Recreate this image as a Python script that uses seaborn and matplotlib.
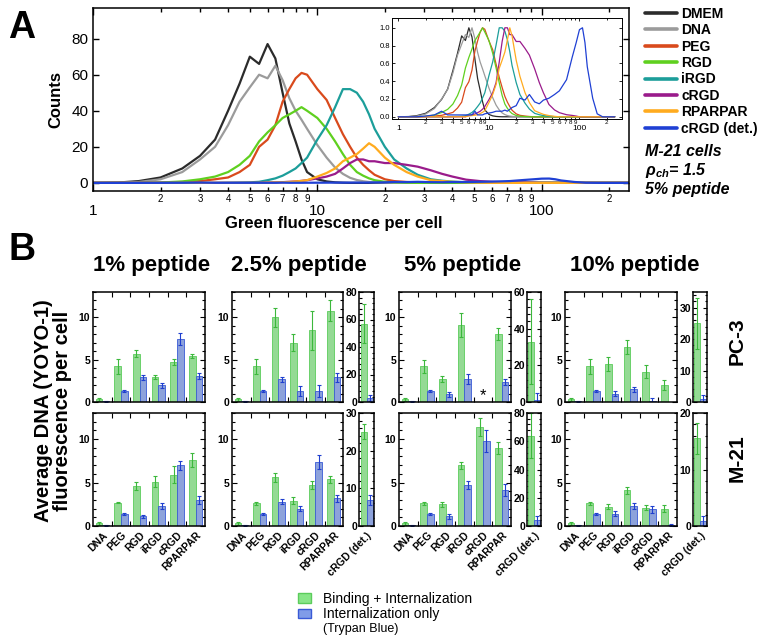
import numpy as np
import pandas as pd
import matplotlib
matplotlib.use('Agg')
import matplotlib.pyplot as plt
from matplotlib.ticker import FixedLocator, FuncFormatter, MultipleLocator, AutoMinorLocator
from matplotlib.patches import Patch
import seaborn as sns

# figure size in pixels, everything below is placed in pixel coords
W, H = 761, 643

# ---------------- panel A data (flow cytometry histograms) ----------------
X_GRID = [1.0, 1.3, 1.6, 2.0, 2.5, 3.0, 3.5, 4.0, 4.5, 5.0, 5.5, 6.0, 6.5, 7.0, 7.5, 8.0,
          8.5, 9.0, 10, 11, 12, 13, 14, 15, 16, 17, 18, 20, 22, 25, 28, 32,
          36, 40, 46, 53, 60, 72, 83, 92, 100, 108, 115, 122, 140, 157, 180, 245]

dmem = [0, 0.2, 1, 3, 8, 15, 24, 40, 55, 70, 66, 77, 69, 50, 33, 23,
        13, 6, 2, 0.8, 0.3, 0.1, 0, 0, 0, 0, 0, 0, 0, 0, 0, 0,
        0, 0, 0, 0, 0, 0, 0, 0, 0, 0, 0, 0, 0, 0, 0, 0]
dna = [0, 0.1, 0.5, 2, 6, 13, 20, 32, 45, 53, 60, 58, 65, 57, 47, 40,
       35, 30, 21, 14, 8.5, 5, 2.8, 1.6, 0.9, 0.5, 0.3, 0.1, 0, 0, 0, 0,
       0, 0, 0, 0, 0, 0, 0, 0, 0, 0, 0, 0, 0, 0, 0, 0]
peg = [0, 0, 0, 0.2, 0.5, 1, 2, 3, 6, 10, 20, 24, 32, 45, 52, 58,
       61, 60, 52, 46, 36, 27, 20, 14, 10, 7, 4.5, 2, 1, 0.5, 0.2, 0,
       0, 0, 0, 0, 0, 0, 0, 0, 0, 0, 0, 0, 0, 0, 0, 0]
rgd = [0, 0, 0, 0.2, 0.8, 2, 3.5, 6, 10, 15, 23, 28, 32, 36, 38, 40,
       42, 40, 36, 30, 23, 16, 10, 6, 4, 2.5, 1.5, 0.6, 0.3, 0.1, 0, 0,
       0, 0, 0, 0, 0, 0, 0, 0, 0, 0, 0, 0, 0, 0, 0, 0]
irgd = [0, 0, 0, 0, 0, 0, 0, 0.1, 0.2, 0.3, 0.6, 1.5, 2.5, 4, 6, 8,
        11, 14, 24, 32, 42, 52, 52, 50, 45, 38, 30, 20, 13, 8, 4.5, 2,
        1.2, 0.7, 0.3, 0.1, 0, 0, 0, 0, 0, 0, 0, 0, 0, 0, 0, 0]
crgd = [0, 0, 0, 0, 0, 0, 0, 0, 0, 0, 0, 0.2, 0.3, 0.4, 0.6, 0.8,
        1.1, 1.5, 2.5, 3.5, 5, 8, 11, 13, 13, 12, 12, 11, 11, 10, 9, 7,
        5, 3.5, 1.8, 1, 0.6, 0.3, 0.2, 0.1, 0, 0, 0, 0, 0, 0, 0, 0]
rparpar = [0, 0, 0, 0, 0, 0, 0, 0, 0, 0, 0, 0.2, 0.3, 0.4, 0.5, 0.8,
           1.1, 1.5, 3.5, 5.5, 8, 12, 14, 16, 19, 22, 20, 14, 10, 6, 3.5, 1.5,
           1, 0.6, 0.3, 0.1, 0, 0, 0, 0, 0, 0, 0, 0, 0, 0, 0, 0]
crgd_det = [0, 0, 0, 0.02, 0.05, 0.15, 0.05, 0.05, 0.05, 0.05, 0.05, 0.05, 0.05, 0.15, 0.05, 0.05,
            0.05, 0.08, 0.1, 0.12, 0.15, 0.15, 0.15, 0.18, 0.15, 0.2, 0.25, 0.3, 0.5, 0.45, 0.6, 0.4,
            0.35, 0.45, 0.5, 0.6, 0.7, 1.0, 1.6, 2.0, 2.35, 2.4, 2.0, 1.35, 0.5, 0.08, 0, 0]

CURVE_NAMES = ['DMEM', 'DNA', 'PEG', 'RGD', 'iRGD', 'cRGD', 'RPARPAR', 'cRGD (det.)']
CURVES = [dmem, dna, peg, rgd, irgd, crgd, rparpar, crgd_det]
CURVE_COLORS = ['#2b2b2b', '#9b9b9b', '#d94a1c', '#5fd01f', '#1c9e9a', '#9a1b8b', '#ffab1f', '#1f40d4']

# ---------------- panel B data (bar charts) ----------------
PEPTIDES = ['DNA', 'PEG', 'RGD', 'iRGD', 'cRGD', 'RPARPAR']
CONCS = ['1% peptide', '2.5% peptide', '5% peptide', '10% peptide']
nan = np.nan

# rows = 1%, 2.5%, 5%, 10%
pc3_bind = [[0.3, 4.2, 5.7, 3.0, 4.7, 5.4],
            [0.3, 4.2, 10.0, 7.0, 8.5, 10.8],
            [0.3, 4.2, 2.7, 9.1, nan, 8.0],
            [0.3, 4.2, 4.5, 6.5, 3.6, 2.0]]
pc3_bind_err = [[0.2, 0.85, 0.4, 0.25, 0.35, 0.25],
                [0.2, 0.9, 1.1, 1.0, 2.3, 1.2],
                [0.15, 0.8, 0.35, 1.4, nan, 0.7],
                [0.2, 0.85, 0.8, 0.8, 0.8, 0.6]]
pc3_int = [[0.1, 1.3, 2.9, 2.0, 7.4, 3.1],
           [0.1, 1.3, 2.7, 1.3, 1.3, 2.9],
           [0.1, 1.3, 0.9, 2.7, nan, 2.4],
           [0.1, 1.3, 1.0, 1.5, 0.1, nan]]
pc3_int_err = [[0.05, 0.1, 0.25, 0.3, 0.7, 0.35],
               [0.05, 0.1, 0.3, 0.6, 0.7, 0.5],
               [0.05, 0.1, 0.25, 0.6, nan, 0.35],
               [0.05, 0.1, 0.3, 0.3, 0.35, nan]]

m21_bind = [[0.3, 2.7, 4.6, 5.1, 5.9, 7.6],
            [0.3, 2.6, 5.6, 2.9, 4.7, 5.4],
            [0.3, 2.6, 2.5, 7.0, 11.4, 9.0],
            [0.3, 2.6, 2.2, 4.1, 2.1, 2.0]]
m21_bind_err = [[0.15, 0.1, 0.5, 0.6, 1.0, 0.8],
                [0.15, 0.15, 0.5, 0.4, 0.5, 0.4],
                [0.15, 0.15, 0.3, 0.4, 1.0, 0.7],
                [0.15, 0.15, 0.3, 0.4, 0.3, 0.4]]
m21_int = [[0.1, 1.4, 1.1, 2.3, 7.0, 3.0],
           [0.1, 1.4, 2.8, 2.0, 7.4, 3.2],
           [0.1, 1.4, 1.1, 4.7, 9.8, 4.1],
           [0.1, 1.4, 1.4, 2.3, 1.9, 0.1]]
m21_int_err = [[0.05, 0.1, 0.2, 0.3, 0.5, 0.5],
               [0.05, 0.1, 0.3, 0.3, 0.8, 0.4],
               [0.05, 0.1, 0.3, 0.5, 1.3, 0.7],
               [0.05, 0.15, 0.3, 0.4, 0.4, 0.1]]

# cRGD (det.) goes on its own small axis (no value at 1%)
pc3_det_bind = [nan, 57, 33, 25]
pc3_det_bind_err = [nan, 14, 23, 8]
pc3_det_int = [nan, 3, 1, 1]
pc3_det_int_err = [nan, 2, 4, 1.3]
m21_det_bind = [nan, 25, 64, 15.5]
m21_det_bind_err = [nan, 2, 16, 2.8]
m21_det_int = [nan, 7, 4, 0.8]
m21_det_int_err = [nan, 1.3, 3, 1.0]
pc3_det_ymax = [None, 80, 60, 35]
m21_det_ymax = [None, 30, 80, 20]

BIND = 'Binding + Internalization'
INTERN = 'Internalization only'
BAR_COLORS = {BIND: '#88e688', INTERN: '#809ce8'}
EDGE_COLORS = {BIND: '#5ccc5c', INTERN: '#3a5ad6'}
ERR_COLORS = {BIND: '#3cb83c', INTERN: '#1f3fcf'}

# ---------------- style ----------------
sns.set_style('ticks')
plt.rcParams['font.family'] = ['Liberation Sans', 'DejaVu Sans']
plt.rcParams['mathtext.fontset'] = 'custom'
plt.rcParams['mathtext.it'] = 'Liberation Sans:italic:bold'
plt.rcParams['mathtext.rm'] = 'Liberation Sans:bold'
for k in ['axes.edgecolor', 'xtick.color', 'ytick.color', 'text.color', 'axes.labelcolor']:
    plt.rcParams[k] = 'black'
plt.rcParams['axes.linewidth'] = 1.1


def box(l, t, r, b):
    # pixel box -> figure fraction rect
    return [l / W, 1 - b / H, (r - l) / W, (b - t) / H]


fig = plt.figure(figsize=(W / 100, H / 100), dpi=100)

#===================
# Panel A
#===================
axA = fig.add_axes(box(93, 8, 629, 191))
for name, vals, col in zip(CURVE_NAMES, CURVES, CURVE_COLORS):
    sns.lineplot(x=X_GRID, y=vals, color=col, lw=1.6, ax=axA, label=name, estimator=None)
handles, labels = axA.get_legend_handles_labels()
if axA.get_legend() is not None:
    axA.get_legend().remove()

axA.set_xscale('log')
axA.set_xlim(1, 245)
axA.set_ylim(-4.5, 97)
minor_pos = [m * 10 ** e for e in (0, 1, 2) for m in range(2, 10) if m * 10 ** e < 245]
axA.xaxis.set_major_locator(FixedLocator([1, 10, 100]))
axA.xaxis.set_minor_locator(FixedLocator(minor_pos))
axA.xaxis.set_major_formatter(FuncFormatter(lambda v, p: f'{v:g}'))
axA.xaxis.set_minor_formatter(FuncFormatter(lambda v, p: str(int(round(v / 10 ** np.floor(np.log10(v)))))))
axA.yaxis.set_major_locator(FixedLocator([0, 20, 40, 60, 80]))
axA.tick_params(which='both', direction='in', top=True, right=True, width=1)
axA.tick_params(axis='x', which='major', length=5, pad=9, labelsize=11)
axA.tick_params(axis='x', which='minor', length=3, pad=2, labelsize=7)
axA.tick_params(axis='y', which='major', length=4, labelsize=11)
axA.set_ylabel('Counts', fontsize=12, fontweight='bold')
axA.yaxis.set_label_coords(-0.056, 0.5)
axA.set_xlabel('Green fluorescence per cell', fontsize=12, fontweight='bold')
axA.xaxis.set_label_coords((334 - 93) / 536, -(216 - 191) / 183)

# inset with the normalized histograms
axI = fig.add_axes(box(392, 18, 622, 119))
for vals, col in zip(CURVES, CURVE_COLORS):
    v = np.array(vals, dtype=float)
    sns.lineplot(x=X_GRID, y=v / v.max(), color=col, lw=0.9, ax=axI, estimator=None)
axI.set_xscale('log')
axI.set_xlim(0.85, 295)
axI.set_ylim(-0.025, 1.11)
inset_minor = [m * 10 ** e for e in (0, 1, 2) for m in range(2, 10) if m * 10 ** e <= 300]
axI.xaxis.set_major_locator(FixedLocator([1, 10, 100]))
axI.xaxis.set_minor_locator(FixedLocator(inset_minor))
axI.xaxis.set_major_formatter(FuncFormatter(lambda v, p: f'{v:g}'))
axI.xaxis.set_minor_formatter(FuncFormatter(lambda v, p: str(int(round(v / 10 ** np.floor(np.log10(v)))))))
axI.set_yticks([0, 0.2, 0.4, 0.6, 0.8, 1.0], ['0.0', '0.2', '0.4', '0.6', '0.8', '1.0'])
axI.tick_params(which='both', direction='in', top=True, right=True, width=0.6)
axI.tick_params(axis='x', which='major', length=2.5, pad=4, labelsize=6)
axI.tick_params(axis='x', which='minor', length=1.5, pad=1, labelsize=4.5)
axI.tick_params(axis='y', which='major', length=2.5, pad=1.5, labelsize=5.5)
for s in axI.spines.values():
    s.set_linewidth(0.7)

legA = fig.legend(handles, labels, loc='upper left', bbox_to_anchor=(645 / W, 1 - 7 / H),
                  frameon=False, prop={'weight': 'bold', 'size': 10}, handlelength=2.3,
                  handletextpad=0.3, labelspacing=0.17, borderpad=0, borderaxespad=0)
for h in legA.legend_handles:
    h.set_linewidth(2.6)

fig.text(645 / W, 1 - 151 / H, 'M-21 cells', fontsize=11.5, fontweight='bold', style='italic', va='center')
fig.text(645 / W, 1 - 170 / H, r'$\rho_{ch}$= 1.5', fontsize=11.5, fontweight='bold', style='italic', va='center')
fig.text(645 / W, 1 - 190 / H, '5% peptide', fontsize=11.5, fontweight='bold', style='italic', va='center')
fig.text(22 / W, 1 - 28 / H, 'A', fontsize=27, fontweight='bold', ha='center', va='center')

#===================
# Panel B
#===================
MAIN_L = [93, 232, 399, 565]
MAIN_R = [205, 343, 511, 677]
SIDE_L = [None, 359, 527, 693]
SIDE_R = [None, 374, 541, 707]
ROW_T = [292, 413]
ROW_B = [402, 526]
TITLE_X = [152, 299, 463, 635]


def draw_bars(ax, cats, bind, bind_err, intern, intern_err, width):
    df = pd.DataFrame({'peptide': cats * 2,
                       'kind': [BIND] * len(cats) + [INTERN] * len(cats),
                       'value': list(bind) + list(intern),
                       'err': list(bind_err) + list(intern_err)}).dropna()
    sns.barplot(data=df, x='peptide', y='value', hue='kind', order=cats, hue_order=[BIND, INTERN],
                palette=BAR_COLORS, width=width, errorbar=None, legend=False, ax=ax, linewidth=0.6)
    # error bars on top of each bar, green ones sit left of the category center
    for bar in ax.patches:
        xc = bar.get_x() + bar.get_width() / 2
        idx = int(round(xc))
        kind = BIND if xc < idx else INTERN
        row = df[(df.kind == kind) & (df.peptide == cats[idx])].iloc[0]
        bar.set_edgecolor(EDGE_COLORS[kind])
        ax.errorbar(xc, row['value'], yerr=row['err'], fmt='none', ecolor=ERR_COLORS[kind],
                    elinewidth=0.8, capsize=1.6, capthick=0.8)
    ax.set_xlabel('')
    ax.set_ylabel('')


rows = [(pc3_bind, pc3_bind_err, pc3_int, pc3_int_err,
         pc3_det_bind, pc3_det_bind_err, pc3_det_int, pc3_det_int_err, pc3_det_ymax),
        (m21_bind, m21_bind_err, m21_int, m21_int_err,
         m21_det_bind, m21_det_bind_err, m21_det_int, m21_det_int_err, m21_det_ymax)]

for r, (b, be, it, ite, db, dbe, di, die, dmax) in enumerate(rows):
    bottom = r == 1
    for c in range(4):
        ax = fig.add_axes(box(MAIN_L[c], ROW_T[r], MAIN_R[c], ROW_B[r]))
        draw_bars(ax, PEPTIDES, b[c], be[c], it[c], ite[c], 0.72)
        ax.set_xlim(-0.5, 5.5)
        ax.set_yticks([0, 5, 10], ['0', '5', '10'], fontsize=7.5, fontweight='bold')
        ax.set_ylim(0, 13)
        ax.yaxis.set_minor_locator(MultipleLocator(1))
        ax.xaxis.set_minor_locator(FixedLocator([0.5, 1.5, 2.5, 3.5, 4.5]))
        if bottom:
            ax.set_xticks(range(len(PEPTIDES)), PEPTIDES, rotation=45, ha='right',
                          rotation_mode='anchor', fontsize=7.5, fontweight='bold')
        else:
            ax.set_xticks(range(len(PEPTIDES)), [])
        ax.tick_params(which='both', direction='in', left=True, right=True, top=True, bottom=True, width=0.8)
        ax.tick_params(axis='x', which='major', length=0, pad=3)
        ax.tick_params(axis='x', which='minor', length=3.5)
        ax.tick_params(axis='y', which='major', length=3.5, pad=2)
        ax.tick_params(axis='y', which='minor', length=2)
        if not bottom and c == 2:
            # no cRGD data at 5% for PC-3
            ax.text(4, 0.7, '*', ha='center', va='center', fontsize=12)

        if dmax[c] is None:
            continue
        axs = fig.add_axes(box(SIDE_L[c], ROW_T[r], SIDE_R[c], ROW_B[r]))
        draw_bars(axs, ['cRGD (det.)'], [db[c]], [dbe[c]], [di[c]], [die[c]], 0.8)
        axs.set_xlim(-0.5, 0.5)
        step = 20 if dmax[c] >= 60 else 10
        ticks = list(range(0, int(dmax[c]) + 1, step))
        axs.set_yticks(ticks, [str(t) for t in ticks], fontsize=7.5, fontweight='bold')
        axs.set_ylim(0, dmax[c])
        axs.yaxis.set_minor_locator(AutoMinorLocator(5))
        if bottom:
            axs.set_xticks([0], ['cRGD (det.)'], rotation=45, ha='right',
                           rotation_mode='anchor', fontsize=7.5, fontweight='bold')
        else:
            axs.set_xticks([0], [])
        axs.tick_params(which='both', direction='in', left=True, right=True, width=0.8)
        axs.tick_params(axis='x', which='major', length=0, pad=3)
        axs.tick_params(axis='y', which='major', length=3, pad=1.5)
        axs.tick_params(axis='y', which='minor', length=1.8)

for x, t in zip(TITLE_X, CONCS):
    fig.text(x / W, 1 - 266 / H, t, ha='center', va='center', fontsize=16, fontweight='bold')

fig.text(22 / W, 1 - 250 / H, 'B', fontsize=27, fontweight='bold', ha='center', va='center')
fig.text(53 / W, 1 - 411 / H, 'Average DNA (YOYO-1)\nfluorescence per cell', rotation=90,
         ha='center', va='center', fontsize=14.5, fontweight='bold', linespacing=1.0, multialignment='center')
fig.text(737 / W, 1 - 341 / H, 'PC-3', rotation=90, ha='center', va='center', fontsize=15, fontweight='bold')
fig.text(737 / W, 1 - 458 / H, 'M-21', rotation=90, ha='center', va='center', fontsize=15, fontweight='bold')

# legend for the bars
legB = fig.legend([Patch(facecolor=BAR_COLORS[BIND], edgecolor=EDGE_COLORS[BIND]),
                   Patch(facecolor=BAR_COLORS[INTERN], edgecolor=EDGE_COLORS[INTERN])],
                  [BIND, INTERN], loc='upper left', bbox_to_anchor=(298 / W, 1 - 592 / H),
                  frameon=False, fontsize=10, handlelength=0.95, handleheight=0.65,
                  handletextpad=0.85, labelspacing=0.1, borderpad=0, borderaxespad=0)
fig.text(323 / W, 1 - 629 / H, '(Trypan Blue)', fontsize=9, va='center')

fig.savefig('out.png', dpi=100)
